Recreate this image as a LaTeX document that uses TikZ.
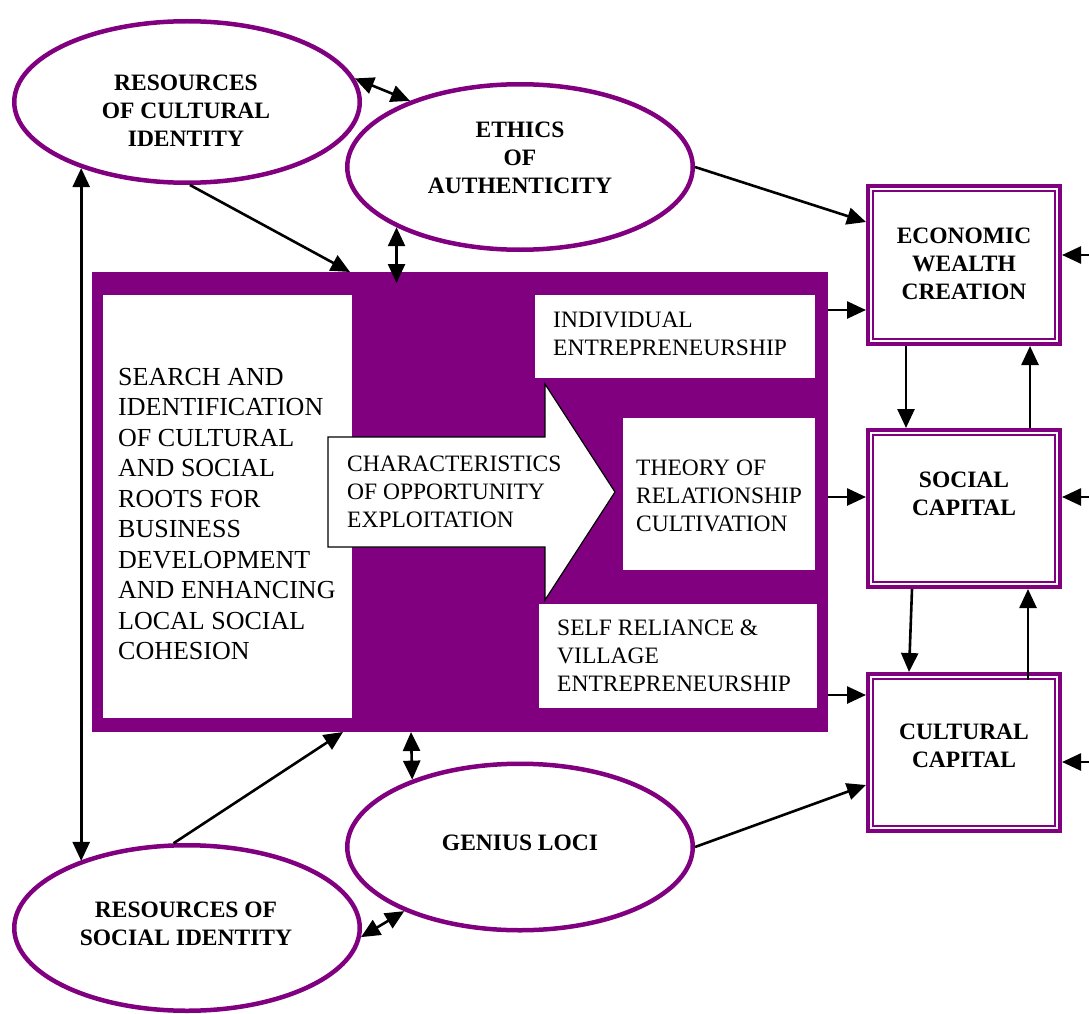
\documentclass[tikz,border=0pt]{standalone}
\usepackage{fontspec}
\setmainfont{Liberation Serif}
\usetikzlibrary{shapes.geometric,arrows.meta,calc}
\definecolor{pur}{RGB}{128,0,128}
\begin{document}
\begin{tikzpicture}[x=1pt,y=-1pt,
  ell/.style={ellipse,draw=pur,line width=4.5pt,minimum width=345.5pt,inner sep=0pt,outer sep=2.25pt},
  rbox/.style={draw=pur,line width=3.8pt,minimum width=192.2pt,outer sep=1.9pt,inner sep=0pt},
  inrect/.style={draw=pur,line width=2pt},
  wbox/.style={fill=white,inner sep=0pt,outer sep=0pt},
  tx/.style={inner sep=0pt,align=left,anchor=west,font=\fontsize{23.5}{28}\selectfont},
  bx/.style={inner sep=0pt,align=center,font=\bfseries\fontsize{23.5}{28}\selectfont},
  tip/.style={},
  arr/.style={line width=2.6pt,-{Triangle[length=19pt,width=17pt]}},
  dbl/.style={line width=2.6pt,{Triangle[length=19pt,width=17pt]}-{Triangle[length=19pt,width=17pt]}}]
\useasboundingbox (0,0) rectangle (1089,1014);
% central block
\node[fill=pur,minimum width=736pt,minimum height=460pt,inner sep=0pt,outer sep=0pt] (main) at (460,502) {};
\node[wbox,minimum width=249pt,minimum height=423pt] (lbox) at (227.5,506.5) {};
\node[wbox,minimum width=280pt,minimum height=83pt] (ibox) at (675,336.5) {};
\node[wbox,minimum width=192pt,minimum height=152pt] (tbox) at (719,494) {};
\node[wbox,minimum width=278pt,minimum height=104pt] (sbox) at (678,656) {};
\draw[fill=white,line width=1.2pt] (328,437) -- (545,437) -- (545,384) -- (615,492) -- (545,600) -- (545,547) -- (328,547) -- cycle;
\node[tx,font=\fontsize{26}{30.5}\selectfont] (ltxt) at (118,514) {SEARCH AND\\IDENTIFICATION\\OF CULTURAL\\AND SOCIAL\\ROOTS FOR\\BUSINESS\\DEVELOPMENT\\AND ENHANCING\\LOCAL SOCIAL\\COHESION};
\node[tx] (itxt) at (553,334) {INDIVIDUAL\\ENTREPRENEURSHIP};
\node[tx] (ttxt) at (636,496) {THEORY OF\\RELATIONSHIP\\CULTIVATION};
\node[tx] (stxt) at (557,656) {SELF RELIANCE \&\\VILLAGE\\ENTREPRENEURSHIP};
\node[tx] (atxt) at (347,492) {CHARACTERISTICS\\OF OPPORTUNITY\\EXPLOITATION};
% ellipses
\node[ell,minimum height=161.5pt] (rci) at (187,102) {};
\node[ell,minimum height=165.5pt] (eth) at (520,167) {};
\node[ell,minimum height=166.5pt] (gl) at (520,847) {};
\node[ell,minimum height=165.5pt] (rsi) at (187,928) {};
\node[bx] (rcit) at (186,110.5) {RESOURCES\\OF CULTURAL\\IDENTITY};
\node[bx] (etht) at (520,158) {ETHICS\\OF\\AUTHENTICITY};
\node[bx] (glt) at (520,843) {GENIUS LOCI};
\node[bx] (rsit) at (186,924) {RESOURCES OF\\SOCIAL IDENTITY};
% right boxes
\node[rbox,minimum height=158.2pt] (eco) at (964,265) {};
\node[rbox,minimum height=157.2pt] (soc) at (964,508.5) {};
\node[rbox,minimum height=157.2pt] (cul) at (964,752.5) {};
\foreach \b in {eco,soc,cul}
  \draw[inrect] ($(\b.north west)+(6.8,6.8)$) rectangle ($(\b.south east)+(-6.8,-6.8)$);
\node[bx] (ecot) at (964,264) {ECONOMIC\\WEALTH\\CREATION};
\node[bx] (soct) at (964,494) {SOCIAL\\CAPITAL};
\node[bx] (cult) at (964,746) {CULTURAL\\CAPITAL};
% coordinates
\coordinate (m1) at ($(main.north east)+(0,38)$);
\coordinate (m2) at ($(main.north east)+(0,225)$);
\coordinate (m3) at ($(main.north east)+(0,423)$);
\coordinate (r1) at (1089,255);
\coordinate (r2) at (1089,497);
\coordinate (r3) at (1089,762);
\coordinate (v1) at ($(eco.south)+(-58,0)$);
\coordinate (v2) at ($(soc.north)+(66,0)$);
\coordinate (v4) at ($(cul.north)+(64,8)$);
% connectors
\draw[arr] (eth.east) -- ($(eco.west)+(0,-43)$);
\draw[arr] (m1) -- (m1 -| eco.west);
\draw[arr] (m2) -- (m2 -| soc.west);
\draw[arr] (m3) -- (m3 -| cul.west);
\draw[arr] (r1) -- (r1 -| eco.east);
\draw[arr] (r2) -- (r2 -| soc.east);
\draw[arr] (r3) -- (r3 -| cul.east);
\draw[arr] (v1) -- (v1 |- soc.north);
\draw[arr] (v2) -- (v2 |- eco.south);
\draw[arr] ($(soc.south)+(-52,0)$) -- ($(cul.north)+(-55,0)$);
\draw[arr] (v4) -- (v4 |- soc.south);
\draw[arr] (gl.east) -- ($(cul.west)+(0,32.5)$);
\draw[arr] (rci.-88) -- ($(main.north west)+(258,0)$);
\draw[dbl] (eth.206.4) -- ($(eth.206.4 |- main.north)+(0,11)$);
\draw[dbl] (rci.8.6) -- (eth.149.8);
\draw[dbl] (rci.212) -- (rci.212 |- rsi.148);
\draw[arr] (rsi.99.5) -- ($(main.south west)+(251,0)$);
\draw[dbl] ($(main.south west)+(319,0)$) -- (gl.148.7);
\draw[dbl] (rsi.-3.3) -- (gl.209.2);
\end{tikzpicture}
\end{document}
